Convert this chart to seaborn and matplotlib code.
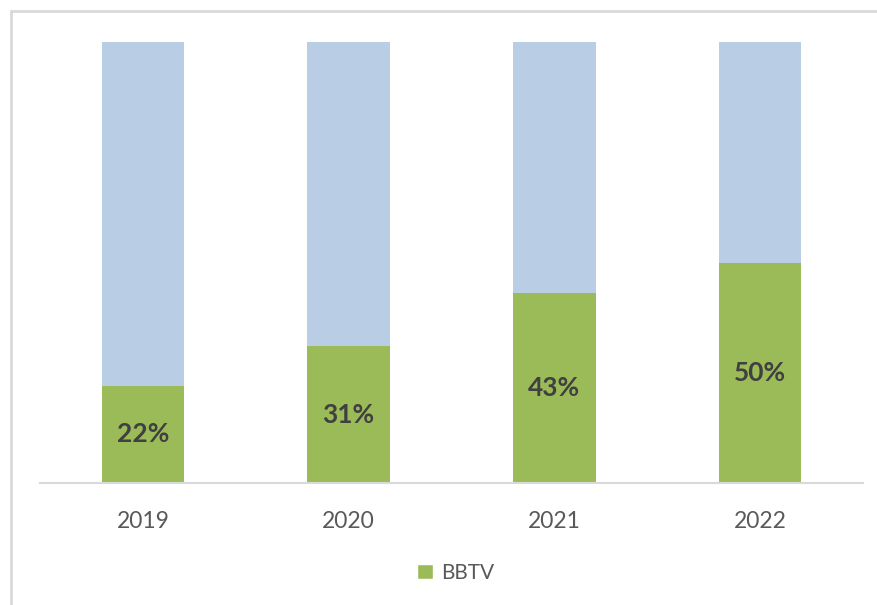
import matplotlib
matplotlib.use("Agg")
import matplotlib.pyplot as plt
import seaborn as sns
import pandas as pd
from matplotlib.lines import Line2D
from matplotlib.patches import Patch

years = ["2019", "2020", "2021", "2022"]
bbtv = [22, 31, 43, 50]
total = [100, 100, 100, 100]
labels = ["22%", "31%", "43%", "50%"]

green = "#9BBB59"
blue = "#B9CDE5"

sns.set_theme(style="white")
plt.rcParams["font.family"] = ["Lato", "DejaVu Sans"]

df = pd.DataFrame({"year": years, "bbtv": bbtv, "total": total})

fig = plt.figure(figsize=(8.77, 6.05), dpi=100)
ax = fig.add_axes([40 / 877, 1 - 483 / 605, 823 / 877, 441 / 605])

sns.barplot(data=df, x="year", y="total", color=blue, width=0.4, saturation=1,
            linewidth=0, ax=ax)
sns.barplot(data=df, x="year", y="bbtv", color=green, width=0.4, saturation=1,
            linewidth=0, ax=ax)

ax.set_xlim(-0.5, 3.5)
ax.set_ylim(0, 100)
ax.set_xlabel("")
ax.set_ylabel("")
ax.set_yticks([])
for s in ["top", "right", "left"]:
    ax.spines[s].set_visible(False)
ax.spines["bottom"].set_color("#D9D9D9")
ax.spines["bottom"].set_linewidth(1.5)
ax.spines["bottom"].set_zorder(5)
ax.tick_params(axis="x", length=0, pad=20, labelsize=16.5, labelcolor="#595959")

for i, (v, lab) in enumerate(zip(bbtv, labels)):
    ax.text(i, v / 2, lab, ha="center", va="center", fontsize=19,
            fontweight="bold", color="#404040")

leg = fig.legend(handles=[Patch(facecolor=green, label="BBTV")],
                 loc="center", bbox_to_anchor=(456 / 877, 1 - 573 / 605),
                 frameon=False, fontsize=15, handlelength=0.75, handleheight=0.75,
                 handletextpad=0.4, labelcolor="#595959")

# outer border (top and left only)
fig.add_artist(Line2D([11 / 877, 1], [1 - 11 / 605, 1 - 11 / 605],
                      transform=fig.transFigure, color="#D9D9D9", lw=2))
fig.add_artist(Line2D([11 / 877, 11 / 877], [0, 1 - 11 / 605],
                      transform=fig.transFigure, color="#D9D9D9", lw=2))

fig.savefig("out.png", dpi=100, facecolor="white")
